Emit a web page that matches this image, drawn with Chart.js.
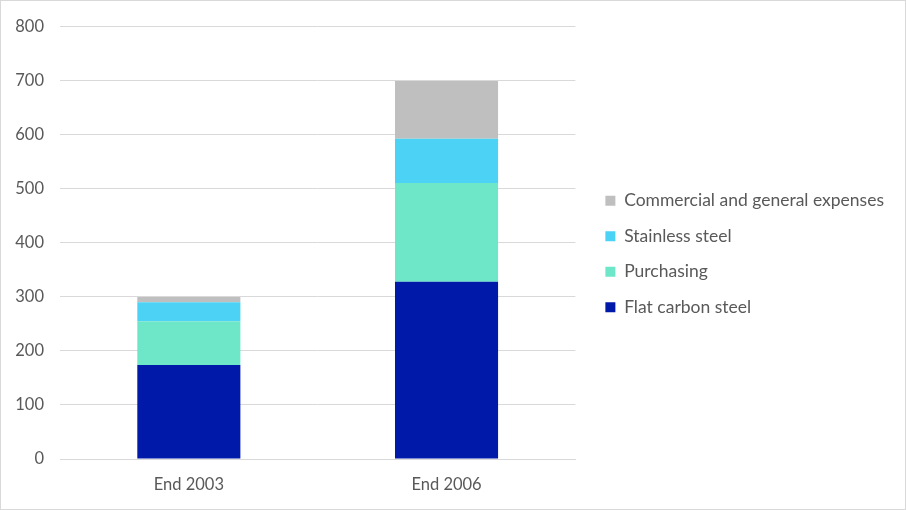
<!DOCTYPE html>
<html>
<head>
<meta charset="utf-8">
<script src="https://cdn.jsdelivr.net/npm/chart.js@4/dist/chart.umd.min.js"></script>
<style>
  body { margin: 0; background: #fff; }
  #wrap { width: 904px; height: 508px; border: 1px solid #d9d9d9; }
</style>
</head>
<body>
<div id="wrap"><canvas id="steelChart" width="904" height="508"></canvas></div>
<script>
// data
const categories = ["End 2003", "End 2006"];
const flatCarbon = [174, 328];
const purchasing = [81, 183];
const stainless = [35, 82];
const commercial = [10, 107];
const yTicks = [0, 100, 200, 300, 400, 500, 600, 700, 800];

const textColor = "#595959";
const fontFamily = "Lato, 'Open Sans', sans-serif";

// nudge the legend a bit, Chart.js glues it to the plot area
const legendShift = {
    id: "legendShift",
    afterLayout: function (chart) {
        let lg = chart.legend;
        lg.left += 12; lg.right += 12;
        lg.top -= 13; lg.bottom -= 13;
    }
};

new Chart("steelChart", {
    type: "bar",
    data: {
        labels: categories,
        datasets: [
            { label: "Flat carbon steel", data: flatCarbon, backgroundColor: "#0019A8" },
            { label: "Purchasing", data: purchasing, backgroundColor: "#6EE6C8" },
            { label: "Stainless steel", data: stainless, backgroundColor: "#4BD2F5" },
            { label: "Commercial and general expenses", data: commercial, backgroundColor: "#BFBFBF" }
        ]
    },
    plugins: [legendShift],
    options: {
        responsive: false,
        animation: false,
        layout: { padding: { top: 24, right: 23, bottom: 0, left: 0 } },
        datasets: { bar: { categoryPercentage: 1, barPercentage: 0.4 } },
        plugins: {
            tooltip: { enabled: false },
            legend: {
                position: "right",
                reverse: true,
                maxWidth: 450,
                labels: {
                    boxWidth: 10,
                    boxHeight: 10,
                    padding: 18,
                    color: textColor,
                    font: { family: fontFamily, size: 17.5 }
                }
            }
        },
        scales: {
            x: {
                stacked: true,
                grid: { display: false, drawTicks: false },
                border: { color: "#d9d9d9" },
                ticks: { color: textColor, padding: 16, font: { family: fontFamily, size: 16.5 } },
                afterFit: function (scale) { scale.height = 50; }
            },
            y: {
                stacked: true,
                min: 0,
                max: 800,
                afterBuildTicks: function (scale) { scale.ticks = yTicks.map(v => ({ value: v })); },
                grid: { color: "#d9d9d9", drawTicks: false },
                border: { display: false },
                ticks: { color: textColor, padding: 16, font: { family: fontFamily, size: 16.5 } },
                afterFit: function (scale) { scale.width = 59; }
            }
        }
    }
});
</script>
</body>
</html>
